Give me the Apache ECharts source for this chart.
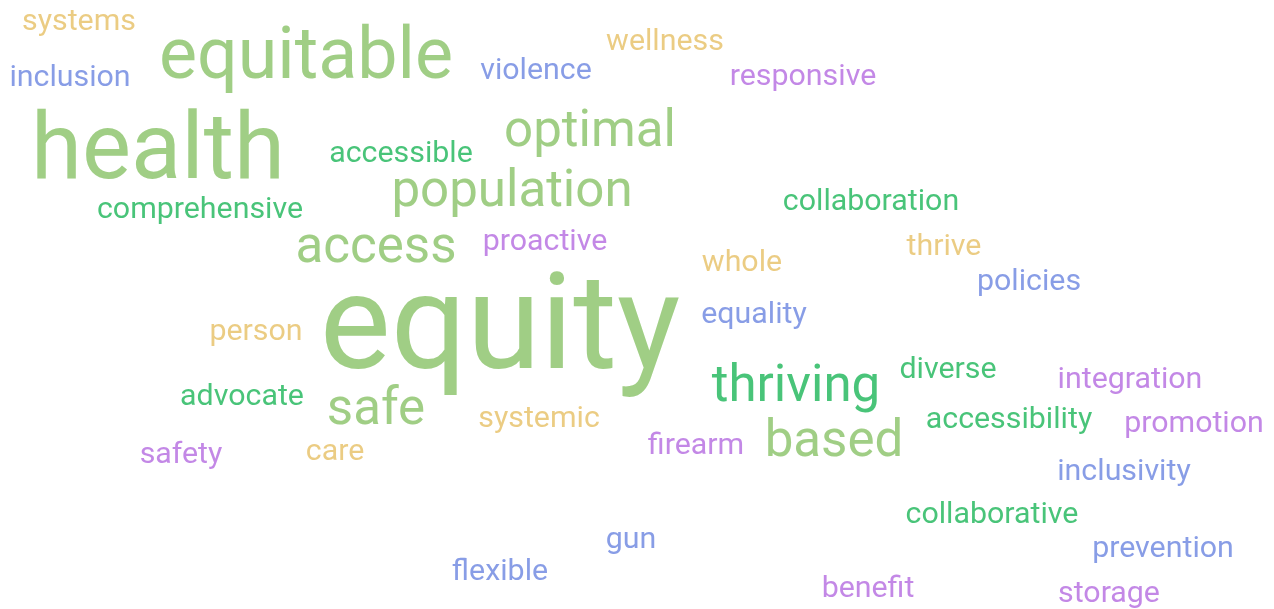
<!DOCTYPE html>
<html>
<head>
<meta charset="utf-8">
<script src="https://cdn.jsdelivr.net/npm/echarts@6/dist/echarts.min.js"></script>
<style>
html,body{margin:0;padding:0;background:#fff;}
#chart{width:1274px;height:609px;}
</style>
</head>
<body>
<div id="chart"></div>
<script>
// Words and their estimated weights (relative frequency)
const words = ["systems","inclusion","equitable","violence","wellness","responsive","health","accessible","optimal","population","comprehensive","collaboration","access","proactive","whole","thrive","policies","equality","person","equity","diverse","integration","thriving","advocate","safe","systemic","accessibility","promotion","firearm","based","safety","care","inclusivity","collaborative","gun","prevention","flexible","benefit","storage"];
const weights = [1,1,5,1,1,1,7,1,3,3,1,1,3,1,1,1,1,1,1,11,1,1,3,1,3,1,1,1,1,3,1,1,1,1,1,1,1,1,1];
// Word-cloud layout (placement of each word in a 1274 x 609 plane)
const layoutX = [79,70,306,536,665,803,158,401,590,512,200,871,376,545,742,944,1029,754,256,500,948,1130,796,242,376,539,1009,1194,696,834,181,335,1124,992,631,1163,500,868,1109];
const layoutY = [22,78,60,71,42,77,155,154,133,193,210,202,249,242,263,247,282,315,332,335,370,380,388,397,411,419,420,424,446,443,455,452,472,515,540,549,572,589,594];
// Colour groups
const groupOf = {
  gold: ["systems","wellness","whole","thrive","person","systemic","care"],
  blue: ["inclusion","violence","policies","equality","inclusivity","gun","prevention","flexible"],
  purple: ["responsive","proactive","integration","promotion","firearm","safety","benefit","storage"],
  dark: ["accessible","comprehensive","collaboration","thriving","advocate","accessibility","collaborative","diverse"],
  green: ["equitable","health","optimal","population","access","equity","safe","based"]
};
const palette = {gold:"#e6bf64", blue:"#6a85e0", purple:"#b46ae0", dark:"#1cb558", green:"#88c266"};
function colorOf(w){ for (const g in groupOf){ if (groupOf[g].indexOf(w) >= 0) return palette[g]; } return "#888"; }
function sizeOf(v){ return 20 + 10.35 * v; }

const data = words.map((w, i) => ({
  name: w,
  value: [layoutX[i], layoutY[i], weights[i]],
  label: { fontSize: sizeOf(weights[i]), color: colorOf(w) }
}));

const chart = echarts.init(document.getElementById('chart'), null, {renderer: 'canvas'});
chart.setOption({
  backgroundColor: '#ffffff',
  animation: false,
  grid: {left: 0, right: 0, top: 0, bottom: 0},
  xAxis: {type: 'value', min: 0, max: 1274, show: false},
  yAxis: {type: 'value', min: 0, max: 609, inverse: true, show: false},
  series: [{
    type: 'scatter',
    symbolSize: 0,
    silent: true,
    data: data,
    label: {
      show: true,
      position: 'inside',
      formatter: '{b}',
      fontFamily: 'Roboto',
      fontWeight: 'normal',
      align: 'center',
      verticalAlign: 'middle'
    }
  }]
});
</script>
</body>
</html>
